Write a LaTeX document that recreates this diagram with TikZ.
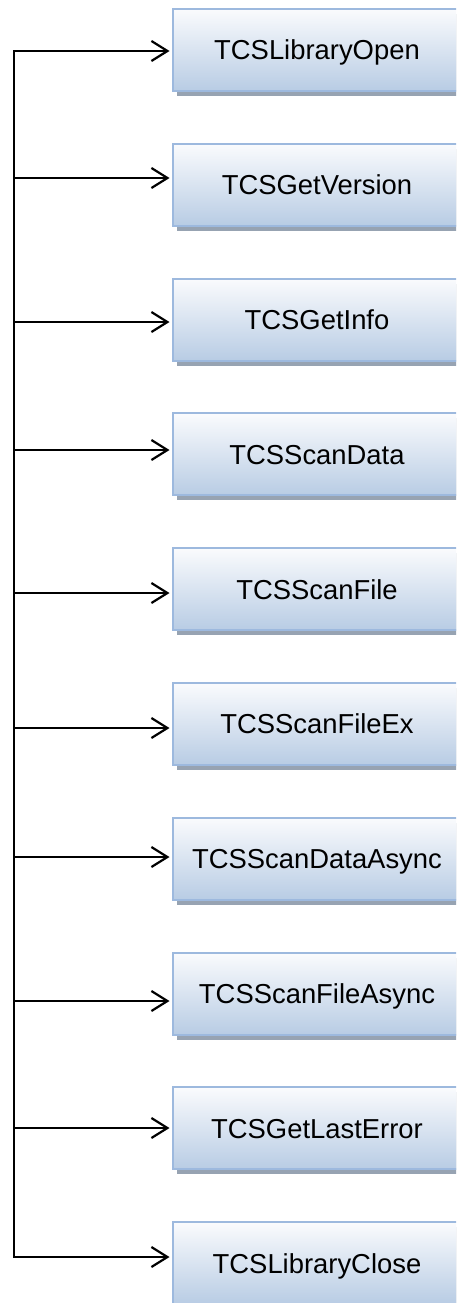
\documentclass[tikz,border=0pt]{standalone}
\usepackage{fontspec}
\setmainfont{Liberation Sans}
\usetikzlibrary{arrows.meta,shadows,calc}

\definecolor{boxtop}{HTML}{FAFBFD}
\definecolor{boxbottom}{HTML}{B8CCE4}
\definecolor{boxborder}{HTML}{9DB9DE}
\definecolor{boxshadow}{HTML}{97A3B2}

\tikzset{
  funcbox/.style={
    draw=boxborder, line width=2pt,
    top color=boxtop, bottom color=boxbottom,
    minimum width=288pt, minimum height=82pt,
    inner sep=0pt, text height=19.6pt, text depth=0pt,
    font=\fontsize{27.4}{30}\selectfont,
    drop shadow={shadow xshift=4pt, shadow yshift=-5pt, fill=boxshadow, opacity=1}
  },
  bus/.style={line width=2.2pt, black},
  feed/.style={line width=2.2pt, black,
    -{Straight Barb[length=16pt, width=20pt, line width=2.2pt]}, shorten >=2.5pt}
}

\begin{document}
\begin{tikzpicture}[x=1pt, y=-1pt]
  \useasboundingbox (0,0) rectangle (456,1303);
  \clip (0,0) rectangle (456,1303);

  % function boxes, top edges 134.8pt apart
  \foreach \k/\name in {0/TCSLibraryOpen, 1/TCSGetVersion, 2/TCSGetInfo,
                        3/TCSScanData, 4/TCSScanFile, 5/TCSScanFileEx,
                        6/TCSScanDataAsync, 7/TCSScanFileAsync,
                        8/TCSGetLastError, 9/TCSLibraryClose}
    \node[funcbox] (b\k) at (317, 50+134.8*\k) {\name};

  % junctions on the common bus
  \foreach \k/\yy in {0/51, 1/178, 2/322, 3/450, 4/593,
                      5/728, 6/857, 7/1001, 8/1128, 9/1257}
    \coordinate (j\k) at (14, \yy);

  % vertical bus
  \draw[bus, line cap=rect] (j0) -- (j9);

  % branches into each box
  \foreach \k in {0,...,9}
    \draw[feed] (j\k) -- (j\k -| b\k.west);
\end{tikzpicture}
\end{document}
